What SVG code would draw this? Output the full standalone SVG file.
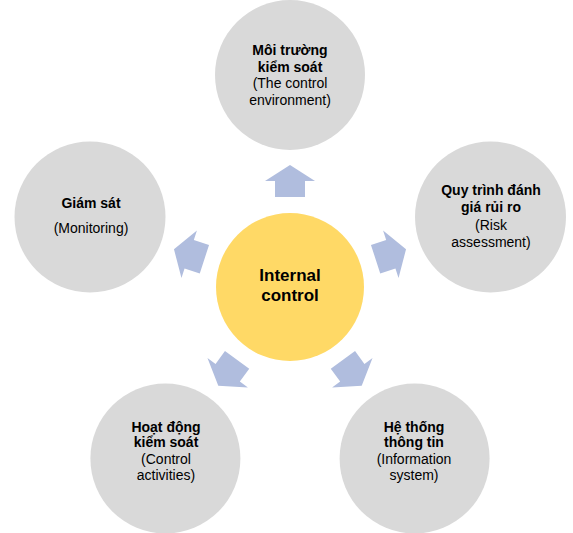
<svg xmlns="http://www.w3.org/2000/svg" width="573" height="533" viewBox="0 0 573 533">
<style>
.outer{fill:#D9D9D9}
.center{fill:#FFD966}
.arr{fill:#B0BDDE}
text{font-family:"Liberation Sans",Arial,sans-serif;font-size:14px;fill:#000;text-anchor:middle}
.b{font-weight:bold}
.c{font-weight:bold;font-size:17px}
</style>
<defs>
<path id="arrow" d="M-15,-90 L-15,-106 L-25,-106 L0,-122 L25,-106 L15,-106 L15,-90 Z"/>
</defs>
<rect width="573" height="533" fill="#fff"/>
<g id="connectors">
<use href="#arrow" class="arr" transform="translate(290,287) rotate(0)"/>
<use href="#arrow" class="arr" transform="translate(290,287) rotate(72)"/>
<use href="#arrow" class="arr" transform="translate(290,287) rotate(144)"/>
<use href="#arrow" class="arr" transform="translate(290,287) rotate(216)"/>
<use href="#arrow" class="arr" transform="translate(290,287) rotate(288)"/>
</g>
<g id="node-center">
<circle class="center" cx="290" cy="287" r="74"/>
<text class="c" x="290" y="281">Internal</text>
<text class="c" x="290" y="301">control</text>
</g>
<g id="node-environment">
<circle class="outer" cx="290" cy="75" r="75"/>
<text class="b" x="290" y="55">Môi trường</text>
<text class="b" x="290" y="71.5">kiểm soát</text>
<text x="290" y="88">(The control</text>
<text x="290" y="104.5">environment)</text>
</g>
<g id="node-risk">
<circle class="outer" cx="490.5" cy="217" r="75.5"/>
<text class="b" x="491" y="195">Quy trình đánh</text>
<text class="b" x="491" y="212">giá rủi ro</text>
<text x="491" y="229.5">(Risk</text>
<text x="491" y="246.5">assessment)</text>
</g>
<g id="node-information">
<circle class="outer" cx="414.6" cy="458.5" r="75"/>
<text class="b" x="414" y="431.5">Hệ thống</text>
<text class="b" x="414" y="447">thông tin</text>
<text x="414" y="463.5">(Information</text>
<text x="414" y="480">system)</text>
</g>
<g id="node-activities">
<circle class="outer" cx="165.4" cy="458.5" r="75"/>
<text class="b" x="166" y="431.5">Hoạt động</text>
<text class="b" x="166" y="447">kiểm soát</text>
<text x="166" y="463.5">(Control</text>
<text x="166" y="480">activities)</text>
</g>
<g id="node-monitoring">
<circle class="outer" cx="90" cy="217" r="75.5"/>
<text class="b" x="91" y="208">Giám sát</text>
<text x="91" y="233">(Monitoring)</text>
</g>
</svg>
